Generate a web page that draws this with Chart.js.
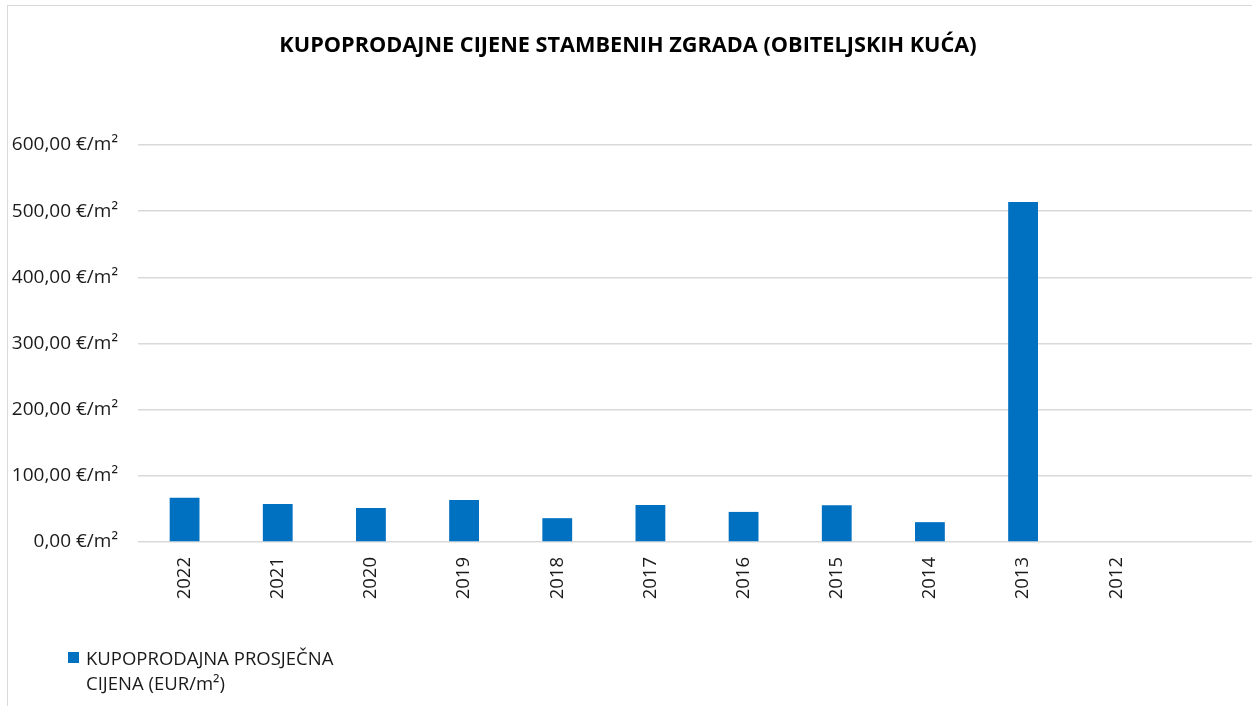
<!DOCTYPE html>
<html>
<head>
<meta charset="utf-8">
<script src="https://cdn.jsdelivr.net/npm/chart.js@4/dist/chart.umd.min.js"></script>
<style>
  html, body { margin: 0; padding: 0; background: #fff; overflow: hidden; }
  #frame {
    position: absolute; left: 7px; top: 5px; width: 1300px; height: 800px;
    border-left: 1px solid #d9d9d9; border-top: 1px solid #d9d9d9;
  }
  #wrap { position: absolute; left: 0; top: 0; width: 1256px; height: 706px; }
  .legend {
    position: absolute; left: 68px; top: 645px; display: flex;
    font-family: "Open Sans", sans-serif; font-size: 18.5px; line-height: 25px; color: #1a1a1a;
  }
  .legend .box { width: 11px; height: 11px; background: #0070C0; margin-top: 7px; margin-right: 7px; flex: none; }
</style>
</head>
<body>
<div id="frame"></div>
<div id="wrap"><canvas id="priceChart"></canvas></div>
<div class="legend"><div class="box"></div><div>KUPOPRODAJNA PROSJEČNA<br>CIJENA (EUR/m²)</div></div>
<script>
// categories (last slot is an empty category, as in the original sheet)
const years = ["2022", "2021", "2020", "2019", "2018", "2017", "2016", "2015", "2014", "2013", "2012", ""];
// average sale price, EUR/m2
const avgPrice = [67, 57.5, 51.5, 63.5, 36, 56, 45.5, 55.5, 30, 514, 0, null];
const seriesLabel = "KUPOPRODAJNA PROSJEČNA CIJENA (EUR/m²)";
const chartTitle = "KUPOPRODAJNE CIJENE STAMBENIH ZGRADA (OBITELJSKIH KUĆA)";

const fontFamily = "'Open Sans', sans-serif";

document.addEventListener("DOMContentLoaded", () => {
  const ctx = document.getElementById("priceChart").getContext("2d");
  new Chart(ctx, {
    type: "bar",
    data: {
      labels: years,
      datasets: [
        {
          label: seriesLabel,
          data: avgPrice,
          backgroundColor: "#0070C0",
          borderWidth: 0,
          categoryPercentage: 1,
          barPercentage: 0.32,
        },
      ],
    },
    options: {
      responsive: true,
      maintainAspectRatio: false,
      animation: false,
      layout: { padding: { left: 0, right: 0, top: 0, bottom: 100 } },
      plugins: {
        legend: { display: false },
        tooltip: { enabled: false },
        title: {
          display: true,
          text: chartTitle,
          color: "#000",
          font: { family: fontFamily, size: 21.7, weight: "bold" },
          padding: { top: 33, bottom: 86 },
        },
      },
      scales: {
        x: {
          grid: { display: false },
          border: { display: false },
          ticks: {
            color: "#1a1a1a",
            font: { family: fontFamily, size: 18.5 },
            minRotation: 90,
            maxRotation: 90,
            padding: 7,
            autoSkip: false,
          },
          afterFit(scale) { scale.height = 64; },
        },
        y: {
          min: 0,
          max: 600,
          grid: { color: "#d9d9d9", lineWidth: 1.5, drawTicks: false },
          border: { display: false },
          ticks: {
            stepSize: 100,
            padding: 20,
            color: "#1a1a1a",
            font: { family: fontFamily, size: 19 },
            callback: (v) => v.toFixed(2).replace(".", ",") + " €/m²",
          },
          afterFit(scale) { scale.width = 138; },
        },
      },
    },
  });
});
</script>
</body>
</html>
